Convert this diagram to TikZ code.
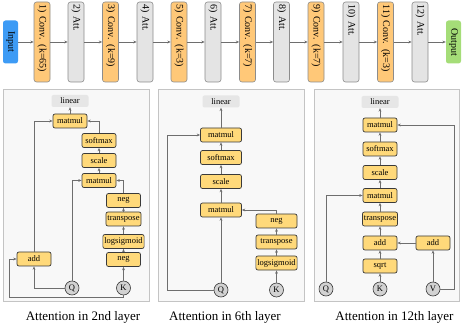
\documentclass[tikz,border=0pt]{standalone}
\usepackage{fontspec}
\setmainfont{Liberation Serif}
\usetikzlibrary{arrows.meta}
\definecolor{ConvOrange}{HTML}{FFC878}
\definecolor{AttGray}{HTML}{E4E4E4}
\definecolor{BoxEdge}{HTML}{8C8C8C}
\definecolor{InBlue}{HTML}{3D9BF5}
\definecolor{OutGreen}{HTML}{A5DD78}
\definecolor{OpYellow}{HTML}{FFD97A}
\definecolor{OpEdge}{HTML}{3A3A3A}
\definecolor{LinGray}{HTML}{E6E6E6}
\definecolor{CircGray}{HTML}{D2D2D2}
\definecolor{LineGray}{HTML}{6E6E6E}
\definecolor{PanelFill}{HTML}{F8F8F8}
\definecolor{PanelEdge}{HTML}{C4C4C4}

\begin{document}
\begin{tikzpicture}[x=1pt, y=-1pt, >={Stealth[length=3.4pt, width=2.8pt]},
  flow/.style={->, draw=LineGray, line width=0.6pt},
  layer/.style={rotate=-90, rounded corners=2.5pt, draw=BoxEdge, line width=0.6pt,
    minimum width=80pt, minimum height=16pt, text width=75pt, inner xsep=2.5pt,
    inner ysep=0pt, align=left, font=\fontsize{10}{12}\selectfont},
  conv/.style={layer, fill=ConvOrange},
  att/.style={layer, fill=AttGray},
  ends/.style={rotate=-90, rounded corners=2.5pt, minimum width=43pt,
    minimum height=15pt, inner sep=0pt, font=\fontsize{10}{12}\selectfont},
  op/.style={draw=OpEdge, fill=OpYellow, rounded corners=2pt, line width=0.7pt,
    minimum width=34pt, minimum height=14pt, inner xsep=1.5pt, inner ysep=0pt,
    font=\fontsize{8.5}{10}\selectfont},
  wideop/.style={op, minimum width=41pt},
  lin/.style={fill=LinGray, rounded corners=2pt, minimum width=37pt,
    minimum height=12pt, inner sep=0pt, font=\fontsize{8.5}{10}\selectfont},
  var/.style={circle, draw=OpEdge, fill=CircGray, minimum size=14pt, inner sep=0pt,
    line width=0.6pt, font=\fontsize{8.5}{10}\selectfont},
  panel/.style={draw=PanelEdge, fill=PanelFill, line width=0.7pt},
  caption/.style={font=\fontsize{13}{15}\selectfont}]
  \useasboundingbox (0,0) rectangle (465,328);

  % Layer stack
  \node[ends, fill=InBlue] (in) at (10.5,42) {Input};
  \node[conv] (c1) at (42,42) {1) Conv. (k=65)};
  \node[att] (a2) at (76,42) {2) Att.};
  \node[conv] (c3) at (110.5,42) {3) Conv. (k=9)};
  \node[att] (a4) at (145,42) {4) Att.};
  \node[conv] (c5) at (179,42) {5) Conv. (k=3)};
  \node[att] (a6) at (213,42) {6) Att.};
  \node[conv] (c7) at (247.5,42) {7) Conv. (k=7)};
  \node[att] (a8) at (281.5,42) {8) Att.};
  \node[conv] (c9) at (316,42) {9) Conv. (k=7)};
  \node[att] (a10) at (351,42) {10) Att.};
  \node[conv] (c11) at (385.5,42) {11) Conv. (k=3)};
  \node[att] (a12) at (420,42) {12) Att.};
  \node[ends, fill=OutGreen] (out) at (453.5,42) {Output};
  \draw[flow] (in) -- (c1);
  \draw[flow] (c1) -- (a2);
  \draw[flow] (a2) -- (c3);
  \draw[flow] (c3) -- (a4);
  \draw[flow] (a4) -- (c5);
  \draw[flow] (c5) -- (a6);
  \draw[flow] (a6) -- (c7);
  \draw[flow] (c7) -- (a8);
  \draw[flow] (a8) -- (c9);
  \draw[flow] (c9) -- (a10);
  \draw[flow] (a10) -- (c11);
  \draw[flow] (c11) -- (a12);
  \draw[flow] (a12) -- (out);

  % Panels
  \draw[panel] (3,89) rectangle (149,301);
  \draw[panel] (158,89) rectangle (304,301);
  \draw[panel] (314,89) rectangle (459,301);

  % Attention in 2nd layer
  \node[lin] (p1lin) at (70,101) {linear};
  \node[op] (p1mm1) at (70,121) {matmul};
  \node[op] (p1sm) at (99,140.5) {softmax};
  \node[op] (p1sc) at (99,160.5) {scale};
  \node[op] (p1mm2) at (99,180.5) {matmul};
  \node[op] (p1n1) at (123.5,200.5) {neg};
  \node[op] (p1tr) at (123.5,219) {transpose};
  \node[op] (p1ls) at (123.5,241.5) {logsigmoid};
  \node[op] (p1n2) at (123.5,259.5) {neg};
  \node[op] (p1add) at (34,259) {add};
  \node[var] (p1q) at (72,288) {Q};
  \node[var] (p1k) at (123.5,288) {K};
  \draw[flow] (p1mm1) -- (p1lin);
  \draw[flow] (p1sm.north) |- (p1mm1.east);
  \draw[flow] (p1sc) -- (p1sm);
  \draw[flow] (p1mm2) -- (p1sc);
  \draw[flow] (p1n1.north) |- (p1mm2.east);
  \draw[flow] (p1tr) -- (p1n1);
  \draw[flow] (p1ls) -- (p1tr);
  \draw[flow] (p1n2) -- (p1ls);
  \draw[flow] (p1k) -- (p1n2);
  \draw[flow] (p1q.north) |- (p1mm2.west);
  \draw[flow] (p1q.west) -| (p1add.south);
  \draw[flow] (p1k.south) -- ++(0,2) -| ([xshift=-7pt]p1add.west) -- (p1add.west);
  \draw[flow] (p1add.north) |- (p1mm1.west);
  \node[caption] (p1cap) at (83,317) {Attention in 2nd layer};

  % Attention in 6th layer
  \node[lin] (p2lin) at (221,101.5) {linear};
  \node[wideop] (p2mm1) at (221,135) {matmul};
  \node[wideop] (p2sm) at (221,157.5) {softmax};
  \node[wideop] (p2sc) at (221,181.5) {scale};
  \node[wideop] (p2mm2) at (221,210) {matmul};
  \node[wideop] (p2neg) at (276.5,221) {neg};
  \node[wideop] (p2tr) at (276.5,242) {transpose};
  \node[wideop] (p2ls) at (276.5,263) {logsigmoid};
  \node[var] (p2q) at (221,290) {Q};
  \node[var] (p2k) at (276.5,290) {K};
  \draw[flow] (p2mm1) -- (p2lin);
  \draw[flow] (p2sm) -- (p2mm1);
  \draw[flow] (p2sc) -- (p2sm);
  \draw[flow] (p2mm2) -- (p2sc);
  \draw[flow] (p2q) -- (p2mm2);
  \draw[flow] (p2neg.north) |- (p2mm2.east);
  \draw[flow] (p2tr) -- (p2neg);
  \draw[flow] (p2ls) -- (p2tr);
  \draw[flow] (p2k) -- (p2ls);
  \draw[flow] (p2q.west) -| ([xshift=-33pt]p2mm1.west) -- (p2mm1.west);
  \node[caption] (p2cap) at (225,317) {Attention in 6th layer};

  % Attention in 12th layer
  \node[lin] (p3lin) at (380,102) {linear};
  \node[op] (p3mm1) at (380,125) {matmul};
  \node[op] (p3sm) at (380,149) {softmax};
  \node[op] (p3sc) at (380,172.5) {scale};
  \node[op] (p3mm2) at (380,195.5) {matmul};
  \node[op] (p3tr) at (380,219) {transpose};
  \node[op] (p3add) at (380,243) {add};
  \node[op] (p3sqrt) at (380,266) {sqrt};
  \node[op] (p3addv) at (433,243) {add};
  \node[var] (p3q) at (326,289) {Q};
  \node[var] (p3k) at (380,289) {K};
  \node[var] (p3v) at (433,289) {V};
  \draw[flow] (p3mm1) -- (p3lin);
  \draw[flow] (p3sm) -- (p3mm1);
  \draw[flow] (p3sc) -- (p3sm);
  \draw[flow] (p3mm2) -- (p3sc);
  \draw[flow] (p3tr) -- (p3mm2);
  \draw[flow] (p3add) -- (p3tr);
  \draw[flow] (p3sqrt) -- (p3add);
  \draw[flow] (p3k) -- (p3sqrt);
  \draw[flow] (p3v) -- (p3addv);
  \draw[flow] (p3addv) -- (p3add);
  \draw[flow] (p3q.north) |- (p3mm2.west);
  \draw[flow] (p3v.east) -| ([xshift=57pt]p3mm1.east) -- (p3mm1.east);
  \node[caption] (p3cap) at (394.5,317) {Attention in 12th layer};
\end{tikzpicture}
\end{document}
